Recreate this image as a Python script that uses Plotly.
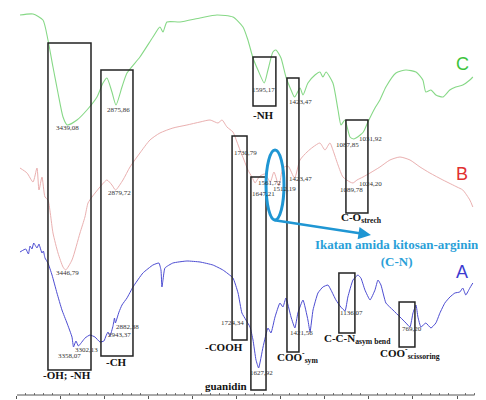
import numpy as np
import plotly.graph_objects as go

# ---------------- data (wavenumber cm-1, transmittance arb. units) ----------------
wn_C = [3966,3818,3705,3648,3591,3534,3477,3430,3318,3205,3091,3023,2978,2921,2875,2807,2750,2603,2455,2376,
        2341,2296,2148,1960,1864,1773,1716,1688,1659,1631,1595,1574,1546,1529,1500,1472,1443,1423,1392,1375,
        1347,1307,1279,1262,1244,1205,1176,1159,1137,1108,1087,1074,1050,1032,1006,966,938,904,847,790,
        733,694,677,648,620,580,541,507,467,427,410]
T_C = [380,381,375,355,328,302,278,270,275,285,298,312,317,303,290,308,322,338,358,368,
       363,373,373,377,380,378,368,355,337,325,312,325,343,345,337,318,305,298,307,300,
       312,320,323,318,323,312,285,270,275,258,256,257,260,263,273,287,295,308,322,325,
       323,315,303,305,300,298,305,308,310,315,318]

wn_B = [3966,3886,3818,3773,3750,3716,3682,3648,3591,3534,3477,3447,3375,3284,3228,3193,3148,3057,2978,2921,
        2880,2796,2716,2603,2489,2376,2228,2069,1960,1903,1858,1835,1807,1773,1750,1733,1710,1688,1665,1647,
        1636,1619,1591,1561,1540,1512,1489,1460,1423,1392,1352,1318,1279,1250,1222,1205,1176,1148,1108,1091,
        1068,1034,994,938,881,824,767,710,654,580,500,467,427,410]
T_B = [227,222,213,227,205,218,198,195,162,142,128,125,135,162,178,192,198,208,215,210,
       205,215,228,242,255,262,267,270,273,275,272,275,268,263,253,245,235,225,218,212,
       215,219,221,213,223,209,227,229,217,235,243,248,252,245,252,245,230,218,213,212,
       215,218,222,228,235,238,235,228,222,215,208,205,195,188]

wn_A = [3966,3900,3870,3852,3830,3810,3795,3773,3750,3739,3716,3700,3682,3648,3602,3546,3489,3432,3375,3358,
        3330,3302,3227,3171,3114,3057,3012,2989,2966,2943,2909,2892,2882,2841,2807,2750,2682,2569,2455,2387,
        2364,2353,2341,2319,2228,2069,1960,1887,1830,1773,1744,1722,1699,1676,1659,1642,1627,1602,1574,1557,
        1534,1506,1489,1472,1443,1421,1404,1375,1347,1335,1318,1290,1262,1233,1216,1188,1160,1136,1120,1091,
        1063,1046,1023,994,966,949,932,904,864,824,790,767,750,733,722,705,677,648,620,597,
        569,540,512,484,467,450,427,410]
T_A = [143,146,141,149,146,152,150,147,151,148,142,144,137,132,120,102,85,72,58,48,
       54,49,57,60,58,53,54,59,63,59,69,77,72,83,90,97,108,122,130,132,
       125,108,115,127,132,134,133,130,125,117,102,82,75,68,55,35,27,48,67,62,
       78,92,88,97,78,67,82,95,75,63,85,102,108,110,105,95,88,84,98,115,
       120,117,105,95,105,115,110,92,85,78,72,68,82,90,78,68,72,67,72,82,
       92,98,102,103,107,100,107,112]

tick_wn = [4000,3500,3000,2500,2000,1750,1500,1250,1000,750,500]
tick_text = ["4000","3500","3000","2500","2000","1750","1500","1250","1000","750","500"]

# peak labels: (text, wavenumber position, T position)
peak_labels = [
    ("3439,08",3421,267),("2875,86",2841,285),("2879,72",2830,202),("3446,79",3421,122),
    ("3358,07",3398,39),("3302,13",3205,45),("2943,37",2830,60),("2882,38",2739,68),
    ("1724,34",1773,72),("1730,79",1704,242),("1647,21",1597,201),("1561,72",1563,212),
    ("1512,19",1478,206),("1423,47",1392,216),("1595,17",1602,305),("1423,47",1392,293),
    ("1087,85",1120,250),("1031,92",994,256),("1089,78",1102,205),("1024,20",989,211),
    ("1627,92",1608,22),("1421,56",1386,62),("1136,07",1097,82),("769,20",756,66),
]

# group boxes: (wn left, wn right, T bottom, T top)
boxes = [(3648,3159,25,352),(3046,2682,39,325),(1659,1529,289,338),(1466,1398,43,317),
         (1131,1006,182,275),(1778,1693,55,259),(1671,1585,5,218),(1171,1080,62,122),(829,739,48,93)]

# group labels: (html text, wn, T, xanchor)
group_labels = [
    ("<b>-OH; -NH</b>",3432,20,"center"),("<b>-CH</b>",2864,33,"center"),("<b>-NH</b>",1602,280,"center"),
    ("<b>-COOH</b>",1824,48,"center"),("<b>guanidin</b>",1680,9,"right"),
    ("<b>COO<sup>-</sup><sub>sym</sub></b>",1404,38,"center"),("<b>C-O<sub>strech</sub></b>",1040,177,"center"),
    ("<b>C-C-N<sub>asym bend</sub></b>",1063,56,"center"),("<b>COO<sup>-</sup><sub>scissoring</sub></b>",767,42,"center"),
]

def u(w):
    w = np.asarray(w, dtype=float)
    return np.where(w >= 2000, (4000 - w) / 2.0, 1000 + (2000 - w))

fig = go.Figure()
fig.add_trace(go.Scatter(x=u(wn_C), y=T_C, mode="lines", line=dict(color="#86d886", width=1.1, shape="spline", smoothing=0.6), hoverinfo="skip"))
fig.add_trace(go.Scatter(x=u(wn_B), y=T_B, mode="lines", line=dict(color="#eab0b0", width=1.0, shape="spline", smoothing=0.6), hoverinfo="skip"))
fig.add_trace(go.Scatter(x=u(wn_A), y=T_A, mode="lines", line=dict(color="#4c4cd2", width=1.0, shape="spline", smoothing=0.4), hoverinfo="skip"))

shapes = []
for wl, wr, yb, yt in boxes:
    shapes.append(dict(type="rect", xref="x", yref="y", x0=float(u(wl)), x1=float(u(wr)), y0=yb, y1=yt,
                       line=dict(color="#222222", width=1.5), fillcolor="rgba(0,0,0,0)"))
# ellipse marking amide bond
shapes.append(dict(type="circle", xref="x", yref="y", x0=float(u(1585)), x1=float(u(1483)), y0=175, y1=245,
                   line=dict(color="#1f96d3", width=3)))
# axis baseline
shapes.append(dict(type="line", xref="x", yref="paper", x0=0, x1=2600, y0=0, y1=0, line=dict(color="#555", width=1)))

ann = []
for t, w, y in peak_labels:
    ann.append(dict(x=float(u(w)), y=y, text=t, showarrow=False, xanchor="center", yanchor="middle",
                    font=dict(family="Liberation Serif", size=7, color="#333")))
for t, w, y, xa in group_labels:
    ann.append(dict(x=float(u(w)), y=y, text=t, showarrow=False, xanchor=xa, yanchor="middle",
                    font=dict(family="Liberation Serif", size=11, color="#111")))
for t, w, y, c in [("C",466,331,"#3cc43c"),("B",472,221,"#e03030"),("A",472,123,"#3c3cd0")]:
    ann.append(dict(x=float(u(w)), y=y, text=t, showarrow=False, font=dict(family="Liberation Sans", size=18, color=c)))
ann.append(dict(x=float(u(841)), y=142, text="<b>Ikatan amida kitosan-arginin<br>(C-N)</b>", showarrow=False,
                align="center", font=dict(family="Liberation Serif", size=13, color="#2aa0d8")))
ann.append(dict(x=float(u(989)), y=160, ax=float(u(1545)), ay=175, axref="x", ayref="y", xref="x", yref="y",
                text="", showarrow=True, arrowhead=2, arrowsize=1, arrowwidth=2.5, arrowcolor="#1f96d3"))

minor_vals = [v for v in range(0, 2601, 50) if v % 250 != 0]
# page body has an 8px margin; figure occupies page x 8..486, y 8..400
fig.update_layout(
    width=478, height=392, margin=dict(l=0, r=0, t=0, b=5),
    paper_bgcolor="white", plot_bgcolor="white", showlegend=False,
    shapes=shapes, annotations=ann,
    xaxis=dict(range=[-51.1, 2664.8], showgrid=False, zeroline=False, showline=False,
               tickmode="array", tickvals=[float(v) for v in u(tick_wn)], ticktext=tick_text,
               ticks="outside", ticklen=3, tickcolor="#555", tickfont=dict(family="Liberation Serif", size=7, color="#444"),
               minor=dict(tickmode="array", tickvals=minor_vals, ticks="inside", ticklen=2, tickcolor="#777"),
               automargin=False, fixedrange=True),
    yaxis=dict(range=[0, 387], visible=False, fixedrange=True),
)
fig.write_html("out.html")
